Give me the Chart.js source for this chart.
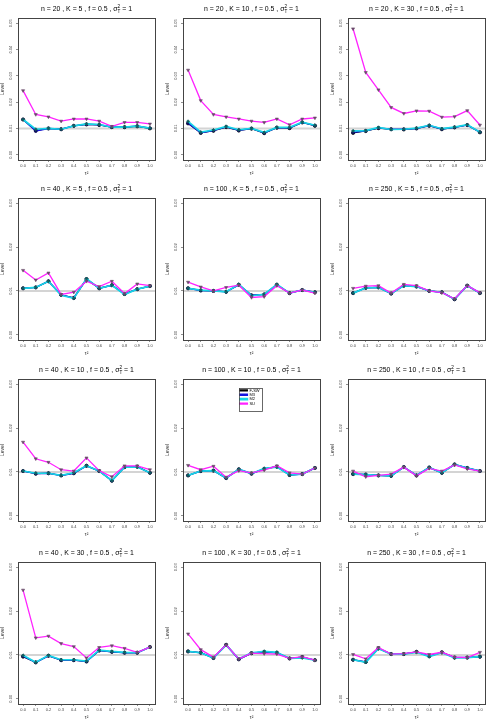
<!DOCTYPE html>
<html><head><meta charset="utf-8">
<script src="https://cdn.jsdelivr.net/npm/chart.js@4.4.1/dist/chart.umd.min.js"></script>
<style>
body{margin:0;background:#fff}
#wrap{position:relative;width:495px;height:726px;overflow:hidden;background:#fff}
canvas{position:absolute}
</style>
</head><body><div id="wrap"></div>
<script>
// ---- data ----
const tau2 = [0.0, 0.1, 0.2, 0.3, 0.4, 0.5, 0.6, 0.7, 0.8, 0.9, 1.0];
const seriesNames = ['F-SW', 'M3', 'M2', 'SU'];
const panelN = [20, 20, 20, 40, 100, 250, 40, 100, 250, 40, 100, 250];
const panelK = [5, 10, 30, 5, 5, 5, 10, 10, 10, 30, 30, 30];
const fValue = 0.5;
const sigmaT2 = 1;
const nominalLevel = 0.01;
const yTicksWide = [0.00, 0.01, 0.02, 0.03, 0.04, 0.05];
const yTicksNarrow = [0.00, 0.01, 0.02, 0.03];

const fsw_20_5  = [0.0134, 0.0092, 0.0100, 0.0097, 0.0110, 0.0115, 0.0113, 0.0105, 0.0105, 0.0108, 0.0100];
const m3_20_5   = [0.0134, 0.0090, 0.0100, 0.0097, 0.0110, 0.0116, 0.0114, 0.0105, 0.0105, 0.0109, 0.0101];
const m2_20_5   = [0.0134, 0.0097, 0.0100, 0.0097, 0.0110, 0.0117, 0.0115, 0.0105, 0.0105, 0.0109, 0.0101];
const su_20_5   = [0.0244, 0.0153, 0.0144, 0.0128, 0.0136, 0.0136, 0.0128, 0.0108, 0.0123, 0.0123, 0.0117];

const fsw_20_10 = [0.0119, 0.0083, 0.0091, 0.0105, 0.0092, 0.0099, 0.0082, 0.0103, 0.0101, 0.0123, 0.0110];
const m3_20_10  = [0.0120, 0.0084, 0.0092, 0.0106, 0.0093, 0.0100, 0.0083, 0.0103, 0.0102, 0.0123, 0.0111];
const m2_20_10  = [0.0127, 0.0086, 0.0094, 0.0108, 0.0095, 0.0100, 0.0085, 0.0104, 0.0104, 0.0124, 0.0112];
const su_20_10  = [0.0322, 0.0206, 0.0153, 0.0144, 0.0136, 0.0128, 0.0123, 0.0136, 0.0114, 0.0136, 0.0140];

const fsw_20_30 = [0.0083, 0.0090, 0.0101, 0.0097, 0.0096, 0.0100, 0.0110, 0.0097, 0.0104, 0.0113, 0.0085];
const m3_20_30  = [0.0085, 0.0091, 0.0102, 0.0097, 0.0097, 0.0100, 0.0111, 0.0098, 0.0104, 0.0113, 0.0086];
const m2_20_30  = [0.0091, 0.0092, 0.0104, 0.0096, 0.0097, 0.0101, 0.0112, 0.0099, 0.0105, 0.0114, 0.0086];
const su_20_30  = [0.0479, 0.0313, 0.0247, 0.0180, 0.0157, 0.0167, 0.0166, 0.0143, 0.0145, 0.0168, 0.0113];

const fsw_40_5  = [0.0106, 0.0108, 0.0122, 0.0091, 0.0084, 0.0127, 0.0106, 0.0113, 0.0093, 0.0104, 0.0111];
const m3_40_5   = [0.0106, 0.0108, 0.0122, 0.0091, 0.0084, 0.0127, 0.0106, 0.0113, 0.0093, 0.0104, 0.0111];
const m2_40_5   = [0.0106, 0.0108, 0.0122, 0.0090, 0.0083, 0.0128, 0.0106, 0.0113, 0.0092, 0.0104, 0.0111];
const su_40_5   = [0.0147, 0.0125, 0.0141, 0.0092, 0.0097, 0.0122, 0.0110, 0.0122, 0.0094, 0.0116, 0.0112];

const fsw_100_5 = [0.0106, 0.0101, 0.0100, 0.0098, 0.0114, 0.0090, 0.0092, 0.0114, 0.0095, 0.0102, 0.0097];
const m3_100_5  = [0.0106, 0.0101, 0.0100, 0.0098, 0.0114, 0.0090, 0.0092, 0.0114, 0.0095, 0.0102, 0.0097];
const m2_100_5  = [0.0106, 0.0102, 0.0100, 0.0098, 0.0115, 0.0089, 0.0092, 0.0115, 0.0095, 0.0102, 0.0097];
const su_100_5  = [0.0120, 0.0109, 0.0100, 0.0108, 0.0113, 0.0085, 0.0087, 0.0112, 0.0095, 0.0102, 0.0095];

const fsw_250_5 = [0.0095, 0.0107, 0.0108, 0.0094, 0.0112, 0.0110, 0.0100, 0.0097, 0.0081, 0.0112, 0.0095];
const m3_250_5  = [0.0095, 0.0107, 0.0108, 0.0094, 0.0112, 0.0110, 0.0100, 0.0097, 0.0081, 0.0112, 0.0095];
const m2_250_5  = [0.0095, 0.0107, 0.0108, 0.0094, 0.0112, 0.0110, 0.0100, 0.0097, 0.0081, 0.0112, 0.0095];
const su_250_5  = [0.0106, 0.0111, 0.0112, 0.0095, 0.0115, 0.0112, 0.0100, 0.0096, 0.0082, 0.0112, 0.0096];

const fsw_40_10 = [0.0102, 0.0096, 0.0097, 0.0092, 0.0097, 0.0114, 0.0102, 0.0080, 0.0111, 0.0112, 0.0098];
const m3_40_10  = [0.0102, 0.0096, 0.0097, 0.0092, 0.0097, 0.0114, 0.0102, 0.0080, 0.0111, 0.0112, 0.0098];
const m2_40_10  = [0.0102, 0.0097, 0.0097, 0.0092, 0.0098, 0.0114, 0.0102, 0.0080, 0.0111, 0.0111, 0.0098];
const su_40_10  = [0.0168, 0.0130, 0.0122, 0.0105, 0.0102, 0.0132, 0.0103, 0.0089, 0.0114, 0.0114, 0.0105];

const fsw_100_10 = [0.0092, 0.0102, 0.0103, 0.0086, 0.0106, 0.0096, 0.0107, 0.0112, 0.0093, 0.0095, 0.0109];
const m3_100_10  = [0.0092, 0.0102, 0.0103, 0.0086, 0.0106, 0.0096, 0.0107, 0.0112, 0.0093, 0.0095, 0.0109];
const m2_100_10  = [0.0092, 0.0102, 0.0103, 0.0086, 0.0106, 0.0096, 0.0108, 0.0111, 0.0093, 0.0095, 0.0109];
const su_100_10  = [0.0115, 0.0105, 0.0113, 0.0088, 0.0103, 0.0098, 0.0104, 0.0114, 0.0098, 0.0095, 0.0109];

const fsw_250_10 = [0.0095, 0.0094, 0.0092, 0.0091, 0.0111, 0.0092, 0.0110, 0.0098, 0.0117, 0.0109, 0.0102];
const m3_250_10  = [0.0095, 0.0094, 0.0092, 0.0091, 0.0111, 0.0092, 0.0110, 0.0098, 0.0117, 0.0109, 0.0102];
const m2_250_10  = [0.0095, 0.0094, 0.0092, 0.0091, 0.0111, 0.0092, 0.0110, 0.0098, 0.0117, 0.0109, 0.0102];
const su_250_10  = [0.0102, 0.0089, 0.0092, 0.0095, 0.0111, 0.0091, 0.0108, 0.0102, 0.0116, 0.0107, 0.0102];

const fsw_40_30 = [0.0096, 0.0083, 0.0098, 0.0088, 0.0088, 0.0085, 0.0110, 0.0107, 0.0105, 0.0105, 0.0118];
const m3_40_30  = [0.0097, 0.0083, 0.0098, 0.0088, 0.0088, 0.0085, 0.0110, 0.0107, 0.0105, 0.0105, 0.0118];
const m2_40_30  = [0.0099, 0.0083, 0.0099, 0.0089, 0.0089, 0.0086, 0.0111, 0.0108, 0.0106, 0.0105, 0.0118];
const su_40_30  = [0.0248, 0.0139, 0.0143, 0.0126, 0.0119, 0.0093, 0.0117, 0.0121, 0.0115, 0.0106, 0.0118];

const fsw_100_30 = [0.0108, 0.0105, 0.0093, 0.0123, 0.0090, 0.0104, 0.0107, 0.0105, 0.0092, 0.0095, 0.0088];
const m3_100_30  = [0.0108, 0.0105, 0.0093, 0.0123, 0.0090, 0.0104, 0.0107, 0.0105, 0.0092, 0.0095, 0.0088];
const m2_100_30  = [0.0108, 0.0105, 0.0093, 0.0122, 0.0091, 0.0105, 0.0108, 0.0106, 0.0092, 0.0093, 0.0088];
const su_100_30  = [0.0148, 0.0112, 0.0095, 0.0123, 0.0091, 0.0104, 0.0103, 0.0102, 0.0092, 0.0096, 0.0088];

const fsw_250_30 = [0.0089, 0.0084, 0.0115, 0.0102, 0.0102, 0.0107, 0.0097, 0.0106, 0.0094, 0.0094, 0.0096];
const m3_250_30  = [0.0089, 0.0084, 0.0115, 0.0102, 0.0102, 0.0107, 0.0097, 0.0106, 0.0094, 0.0094, 0.0096];
const m2_250_30  = [0.0089, 0.0083, 0.0114, 0.0102, 0.0102, 0.0106, 0.0096, 0.0105, 0.0093, 0.0094, 0.0096];
const su_250_30  = [0.0101, 0.0091, 0.0117, 0.0102, 0.0103, 0.0107, 0.0101, 0.0106, 0.0095, 0.0094, 0.0106];

// panel order: row-major
const fswPanels = [fsw_20_5, fsw_20_10, fsw_20_30, fsw_40_5, fsw_100_5, fsw_250_5, fsw_40_10, fsw_100_10, fsw_250_10, fsw_40_30, fsw_100_30, fsw_250_30];
const m3Panels  = [m3_20_5, m3_20_10, m3_20_30, m3_40_5, m3_100_5, m3_250_5, m3_40_10, m3_100_10, m3_250_10, m3_40_30, m3_100_30, m3_250_30];
const m2Panels  = [m2_20_5, m2_20_10, m2_20_30, m2_40_5, m2_100_5, m2_250_5, m2_40_10, m2_100_10, m2_250_10, m2_40_30, m2_100_30, m2_250_30];
const suPanels  = [su_20_5, su_20_10, su_20_30, su_40_5, su_100_5, su_250_5, su_40_10, su_100_10, su_250_10, su_40_30, su_100_30, su_250_30];

// ---- styling / layout ----
const FONT = "'Liberation Sans', Arial, Helvetica, sans-serif";
const colTops = [0, 180, 361, 544];
const colLefts = [0, 165, 330];
const CW = 165, CH = 182;
const legendPanel = 7;

const seriesStyle = [
  {color: '#000000', width: 1.1, pStyle: 'circle',   pColor: '#000000', pRadius: 1.6, pRot: 0,   order: 3},
  {color: '#1515e0', width: 1.4, pStyle: 'circle',   pColor: '#101060', pRadius: 1.5, pRot: 0,   order: 2},
  {color: '#16d6e6', width: 1.7, pStyle: 'rectRot',  pColor: '#10605f', pRadius: 1.6, pRot: 0,   order: 1},
  {color: '#ff22ff', width: 1.3, pStyle: 'triangle', pColor: '#6a4a6a', pRadius: 1.8, pRot: 180, order: 0}
];

const framePlugin = {
  id: 'frame',
  beforeDatasetsDraw(chart) {
    const {ctx, chartArea: a, scales: {y}} = chart;
    const py = y.getPixelForValue(nominalLevel);
    ctx.save();
    ctx.strokeStyle = '#d4d4d4';
    ctx.lineWidth = 2;
    ctx.beginPath(); ctx.moveTo(a.left, py); ctx.lineTo(a.right, py); ctx.stroke();
    ctx.restore();
  },
  afterDraw(chart) {
    const {ctx, chartArea: a} = chart;
    ctx.save();
    ctx.strokeStyle = '#444';
    ctx.lineWidth = 1;
    ctx.strokeRect(Math.round(a.left) + 0.5, Math.round(a.top) + 0.5, Math.round(a.right - a.left), Math.round(a.bottom - a.top));
    const o = chart.options.plugins.panelTitle;
    // title with sigma_T^2
    const cx = (a.left + a.right) / 2, cy = 9;
    const big = '6.9px ' + FONT, small = '4.6px ' + FONT;
    const p1 = 'n = ' + o.n + ' , K = ' + o.k + ' , f = ' + fValue + ' , \u03C3';
    const p3 = ' = ' + sigmaT2;
    ctx.font = big; const w1 = ctx.measureText(p1).width, w3 = ctx.measureText(p3).width;
    ctx.font = small; const w2 = Math.max(ctx.measureText('2').width, ctx.measureText('T').width);
    let x = cx - (w1 + w2 + w3) / 2;
    ctx.fillStyle = '#000'; ctx.textBaseline = 'middle'; ctx.textAlign = 'left';
    ctx.font = big; ctx.fillText(p1, x, cy); x += w1;
    ctx.font = small; ctx.fillText('2', x, cy - 2.4); ctx.fillText('T', x, cy + 2.3); x += w2;
    ctx.font = big; ctx.fillText(p3, x, cy);
    // legend frame
    if (chart.options.plugins.legend.display) {
      const lg = chart.legend;
      ctx.strokeStyle = '#444'; ctx.lineWidth = 0.8;
      ctx.strokeRect(lg.left + 0.5, lg.top + 0.5, 23, 23);
    }
    ctx.restore();
  },
  afterLayout(chart) {
    if (chart.options.plugins.legend.display) {
      const lg = chart.legend;
      const w = lg.width;
      lg.left = 74; lg.right = 74 + w; lg.top = 27; lg.bottom = 27 + lg.height;
    }
  }
};

const wrap = document.getElementById('wrap');
for (let p = 0; p < 12; p++) {
  const row = Math.floor(p / 3), col = p % 3;
  const cv = document.createElement('canvas');
  cv.width = CW; cv.height = CH;
  cv.style.left = colLefts[col] + 'px'; cv.style.top = colTops[row] + 'px';
  cv.style.width = CW + 'px'; cv.style.height = CH + 'px';
  wrap.appendChild(cv);
  const wide = row === 0;
  const yTicks = wide ? yTicksWide : yTicksNarrow;
  const yMax = yTicks[yTicks.length - 1];
  const ext = yMax * 0.04;
  const seriesData = [fswPanels[p], m3Panels[p], m2Panels[p], suPanels[p]];
  const datasets = seriesData.map((vals, i) => {
    const s = seriesStyle[i];
    return {
      label: seriesNames[i],
      data: tau2.map((t, j) => ({x: t, y: vals[j]})),
      borderColor: s.color, backgroundColor: s.color, borderWidth: s.width,
      pointStyle: s.pStyle, pointRadius: s.pRadius, pointRotation: s.pRot,
      pointBackgroundColor: s.pColor, pointBorderColor: s.pColor, pointBorderWidth: 0.6,
      tension: 0, order: s.order
    };
  });
  new Chart(cv, {
    type: 'line',
    data: {datasets},
    plugins: [framePlugin],
    options: {
      responsive: false, animation: false, devicePixelRatio: 1,
      layout: {padding: {top: 18, right: 10, left: 0, bottom: 0}},
      plugins: {
        panelTitle: {n: panelN[p], k: panelK[p]},
        tooltip: {enabled: false},
        legend: {
          display: p === legendPanel,
          position: 'chartArea', align: 'start',
          labels: {
            font: {size: 4, family: FONT}, color: '#000',
            boxWidth: 8, boxHeight: 1, padding: 0.4,
            sort: (a, b) => a.datasetIndex - b.datasetIndex
          }
        }
      },
      scales: {
        x: {
          type: 'linear', min: -0.04, max: 1.04,
          afterBuildTicks: (sc) => { sc.ticks = tau2.map(v => ({value: v})); },
          afterFit: (sc) => { sc.height = CH - 160; },
          grid: {drawOnChartArea: false, drawTicks: true, tickLength: 2, color: '#444', lineWidth: 0.6},
          border: {display: false},
          ticks: {font: {size: 4, family: FONT}, color: '#444', padding: 1.5, maxRotation: 0, minRotation: 0,
                  callback: (v) => Number(v).toFixed(1)},
          title: {display: true, text: '\u03C4\u00B2', font: {size: 5, family: FONT}, color: '#222', padding: {top: 0, bottom: 5}}
        },
        y: {
          type: 'linear', min: -ext, max: yMax + ext,
          afterBuildTicks: (sc) => { sc.ticks = yTicks.map(v => ({value: v})); },
          afterFit: (sc) => { sc.width = 18; },
          grid: {drawOnChartArea: false, drawTicks: true, tickLength: 2, color: '#444', lineWidth: 0.6},
          border: {display: false},
          ticks: {font: {size: 4, family: FONT}, color: '#444', padding: 1.1, minRotation: 90, maxRotation: 90,
                  crossAlign: 'center', callback: (v) => Number(v).toFixed(2)},
          title: {display: true, text: 'Level', font: {size: 5, family: FONT}, color: '#222', padding: 0}
        }
      }
    }
  });
}
</script>
</body></html>
